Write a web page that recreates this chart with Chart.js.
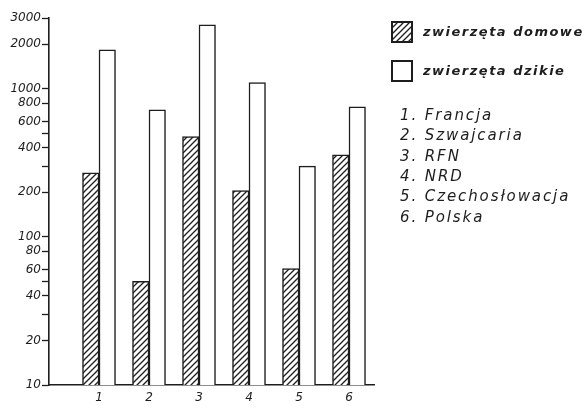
<!DOCTYPE html>
<html>
<head>
<meta charset="utf-8">
<script src="https://cdn.jsdelivr.net/npm/chart.js@4/dist/chart.umd.min.js"></script>
<style>
  html, body { margin: 0; padding: 0; background: #fff; }
  #c { display: block; }
</style>
</head>
<body>
<canvas id="c" width="586" height="408"></canvas>
<script>
// Country numbers on the x axis and the names listed beside the chart
const countryNumbers = ['1', '2', '3', '4', '5', '6'];
const countryNames = ['Francja', 'Szwajcaria', 'RFN', 'NRD', 'Czechosłowacja', 'Polska'];
const seriesNames = ['zwierzęta domowe', 'zwierzęta dzikie'];

// Values per country (log scale)
const domowe = [270, 50, 475, 205, 61, 358];
const dzikie = [1830, 720, 2700, 1100, 300, 755];

// Y-axis ticks: labelled ones and small unlabelled marks
const yLabelTicks = [10, 20, 40, 60, 80, 100, 200, 400, 600, 800, 1000, 2000, 3000];
const yMinorTicks = [30, 50, 300, 500];

const INK = '#1d1d1d';
const canvas = document.getElementById('c');
const ctx = canvas.getContext('2d');

// Diagonal hatch fill for the domestic-animal bars
function makeHatch() {
  const s = 6;
  const p = document.createElement('canvas');
  p.width = s; p.height = s;
  const g = p.getContext('2d');
  g.fillStyle = '#fff';
  g.fillRect(0, 0, s, s);
  g.strokeStyle = INK;
  g.lineWidth = 1.3;
  g.beginPath();
  g.moveTo(-1, s + 1); g.lineTo(s + 1, -1);
  g.moveTo(-s / 2 - 1, s / 2 + 1); g.lineTo(s / 2 + 1, -s / 2 - 1);
  g.moveTo(s / 2 - 1, s * 1.5 + 1); g.lineTo(s * 1.5 + 1, s / 2 - 1);
  g.stroke();
  return ctx.createPattern(p, 'repeat');
}
const hatch = makeHatch();

// Background, legend boxes and the numbered country list
const sidePanel = {
  id: 'sidePanel',
  beforeDraw(chart) {
    const c = chart.ctx;
    c.save();
    c.fillStyle = '#fff';
    c.fillRect(0, 0, chart.width, chart.height);
    c.restore();
  },
  afterDraw(chart) {
    const c = chart.ctx;
    c.save();
    // legend boxes
    const boxes = [{ y: 22, fill: hatch }, { y: 61, fill: '#fff' }];
    boxes.forEach((b, i) => {
      c.fillStyle = b.fill;
      c.fillRect(392, b.y, 20, 20);
      c.lineWidth = 2;
      c.strokeStyle = INK;
      c.strokeRect(392, b.y, 20, 20);
      c.fillStyle = INK;
      c.font = 'italic bold 13px "DejaVu Sans"';
      c.letterSpacing = '1.5px';
      c.textBaseline = 'middle';
      c.textAlign = 'left';
      c.fillText(seriesNames[i], 423, b.y + 11);
    });
    // numbered list of countries
    c.font = 'italic 15px "DejaVu Sans"';
    c.letterSpacing = '1.9px';
    countryNames.forEach((name, i) => {
      c.fillText(countryNumbers[i] + '. ' + name, 400, 116 + i * 20.4);
    });
    c.restore();
  }
};

new Chart(canvas, {
  type: 'bar',
  data: {
    datasets: [
      {
        label: seriesNames[0],
        data: domowe.map((v, i) => ({ x: i + 1, y: v })),
        backgroundColor: hatch,
        borderColor: INK,
        borderWidth: 1.5
      },
      {
        label: seriesNames[1],
        data: dzikie.map((v, i) => ({ x: i + 1, y: v })),
        backgroundColor: '#fff',
        borderColor: INK,
        borderWidth: 1.5
      }
    ]
  },
  options: {
    responsive: false,
    animation: false,
    devicePixelRatio: 1,
    barThickness: 16.5,
    layout: { padding: { top: 18, right: 212, left: 0, bottom: 0 } },
    plugins: {
      legend: { display: false },
      tooltip: { enabled: false }
    },
    scales: {
      x: {
        type: 'linear',
        offset: false,
        min: 0,
        max: 6.5,
        afterBuildTicks: s => { s.ticks = countryNumbers.map((_, i) => ({ value: i + 1 })); },
        afterFit: s => { s.height = 23; },
        grid: { display: false, drawTicks: false },
        border: { display: true, color: INK, width: 1.6 },
        ticks: {
          autoSkip: false,
          maxRotation: 0,
          padding: 6,
          color: INK,
          font: { family: 'DejaVu Sans', size: 12, style: 'italic' },
          callback: (v, i) => countryNumbers[i]
        }
      },
      y: {
        type: 'logarithmic',
        min: 10,
        max: 3000,
        afterBuildTicks: s => {
          s.ticks = yLabelTicks.concat(yMinorTicks).sort((a, b) => a - b).map(v => ({ value: v }));
        },
        afterFit: s => { s.width = 49; },
        grid: {
          display: true,
          drawOnChartArea: false,
          drawTicks: true,
          tickLength: 7,
          tickColor: INK,
          tickWidth: 1.3
        },
        border: { display: true, color: INK, width: 1.6 },
        ticks: {
          autoSkip: false,
          padding: 1,
          color: INK,
          font: { family: 'DejaVu Sans', size: 12, style: 'italic' },
          callback: v => (yLabelTicks.includes(v) ? String(v) : '')
        }
      }
    }
  },
  plugins: [sidePanel]
});
</script>
</body>
</html>
